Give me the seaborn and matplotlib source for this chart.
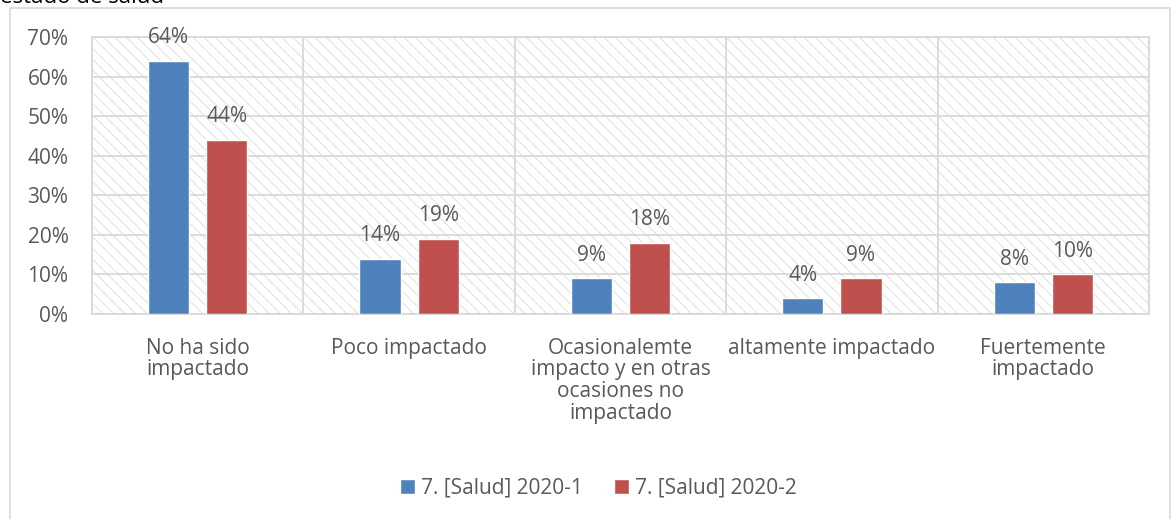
import numpy as np
import pandas as pd
import seaborn as sns
import matplotlib.pyplot as plt
from matplotlib.patches import Rectangle
from matplotlib.ticker import PercentFormatter

categories = ["No ha sido\nimpactado", "Poco impactado",
              "Ocasionalemte\nimpacto y en otras\nocasiones no\nimpactado",
              "altamente impactado", "Fuertemente\nimpactado"]
series_names = ["7. [Salud] 2020-1", "7. [Salud] 2020-2"]
values_2020_1 = [64, 14, 9, 4, 8]
values_2020_2 = [44, 19, 18, 9, 10]
colors = ["#4F81BD", "#C0504D"]
text_color = "#595959"
grid_color = "#D9D9D9"

df = pd.DataFrame({
    "cat": categories * 2,
    "serie": [series_names[0]] * 5 + [series_names[1]] * 5,
    "val": values_2020_1 + values_2020_2,
})

sns.set_style("white")
plt.rcParams['font.family'] = ['Open Sans', 'DejaVu Sans']
plt.rcParams['hatch.linewidth'] = 0.8
fs = 15

fig = plt.figure(figsize=(11.71, 5.19), dpi=100)
ax = fig.add_axes([0.0786, 0.395, 0.9026, 0.5337])

# outer chart frame
fig.patches.append(Rectangle((10 / 1171, -0.05), 1160 / 1171, 1.05 - 8 / 519,
                             transform=fig.transFigure, fill=False,
                             edgecolor=grid_color, linewidth=1.2))
# title is cut off at the top, as in the source image
fig.text(0.0, 1.004, "estado de salud", fontsize=16, color="#000000",
         va="center", ha="left")

# hatched plot background
ax.add_patch(Rectangle((0, 0), 1, 1, transform=ax.transAxes, facecolor="white",
                       edgecolor="#E3E3E3", hatch="\\\\\\", linewidth=0, zorder=0))

sns.barplot(data=df, x="cat", y="val", hue="serie", palette=colors,
            width=0.55, gap=0.29, saturation=1, ax=ax, zorder=3)

for cont in ax.containers:
    ax.bar_label(cont, labels=[f"{v:.0f}%" for v in cont.datavalues],
                 padding=9, fontsize=fs, color=text_color)

ax.set_ylim(0, 70)
ax.set_xlim(-0.5, 4.5)
ax.set_yticks(np.arange(0, 71, 10))
ax.yaxis.set_major_formatter(PercentFormatter(decimals=0))
ax.set_xticks(np.arange(-0.5, 5, 1), minor=True)
ax.grid(axis="y", color=grid_color, linewidth=1.3, zorder=1)
ax.grid(axis="x", which="minor", color=grid_color, linewidth=1.3, zorder=1)
ax.grid(axis="x", which="major", visible=False)
ax.set_axisbelow(True)
for s in ax.spines.values():
    s.set_color(grid_color)
    s.set_linewidth(1.3)
ax.tick_params(axis="both", which="both", length=0, labelsize=fs,
               colors=text_color)
ax.tick_params(axis="y", pad=17)
ax.tick_params(axis="x", pad=17)
for lab in ax.get_xticklabels():
    lab.set_linespacing(1.05)
ax.set_xlabel("")
ax.set_ylabel("")

ax.legend(loc="center", bbox_to_anchor=(0.479, -0.63), ncol=2, frameon=False,
          fontsize=fs, labelcolor=text_color, handlelength=0.7, handleheight=0.7,
          handletextpad=0.3, columnspacing=1.5)

fig.savefig("out.png", dpi=100)
